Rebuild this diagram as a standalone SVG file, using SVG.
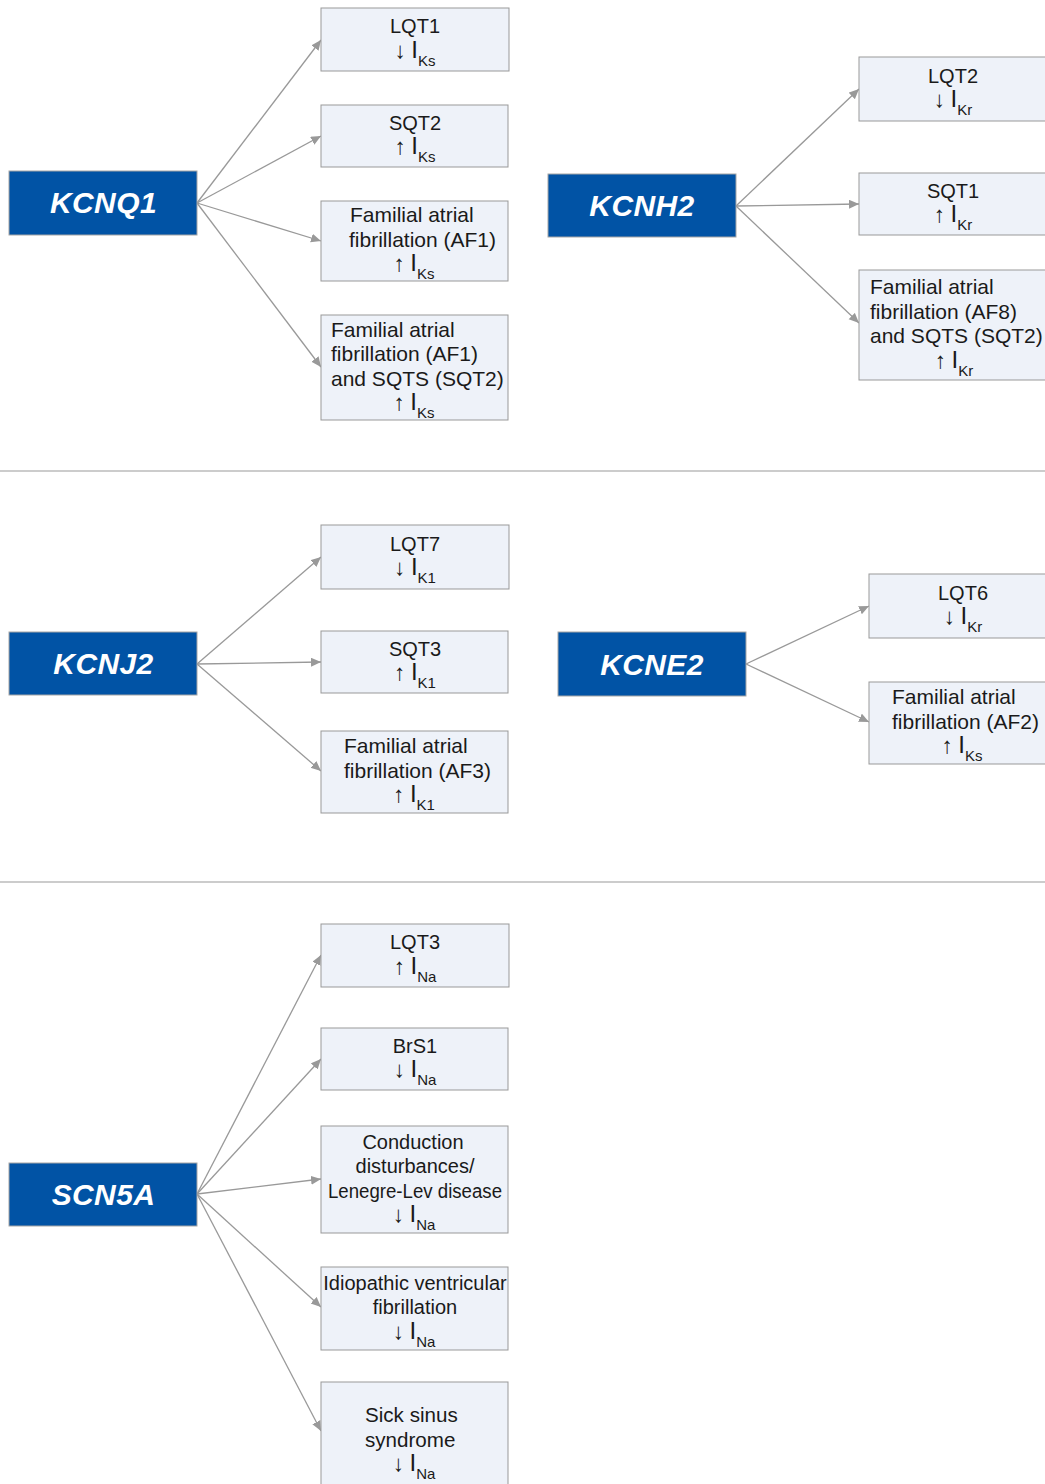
<svg xmlns="http://www.w3.org/2000/svg" width="1045" height="1484" viewBox="0 0 1045 1484">
<defs>
<marker id="ah" markerUnits="userSpaceOnUse" markerWidth="11" markerHeight="10" refX="10" refY="4.5" orient="auto"><path d="M0,0 L10,4.5 L0,9 z" fill="#999"/></marker>
<style>
.gene rect{fill:#0153a5;stroke:#a6a6a6;stroke-width:1}
.gene text{font-family:"Liberation Sans",Arial,sans-serif;font-size:30px;font-weight:bold;font-style:italic;fill:#fff;text-anchor:middle;letter-spacing:0.4px}
.box rect{fill:#eef2f9;stroke:#999;stroke-width:1}
.box text{font-family:"Liberation Sans",Arial,sans-serif;font-size:20px;fill:#1a1a1a}
.box text.l{font-size:21px}
.c{text-anchor:middle}
.ar{font-size:22.5px}
.big{font-size:24px}
.sub{font-size:15px}
.sep{stroke:#bbb;stroke-width:1.5}
#connectors line{stroke:#999;stroke-width:1.3;fill:none;marker-end:url(#ah)}
</style>
</defs>
<rect width="1045" height="1484" fill="#fff"/>
<line class="sep" x1="0" y1="471" x2="1045" y2="471"/>
<line class="sep" x1="0" y1="882" x2="1045" y2="882"/>

<g id="connectors">
<line x1="197" y1="203" x2="321" y2="40"/>
<line x1="197" y1="203" x2="321" y2="136"/>
<line x1="197" y1="203" x2="321" y2="241"/>
<line x1="197" y1="203" x2="321" y2="367"/>
<line x1="736" y1="206" x2="859" y2="89"/>
<line x1="736" y1="206" x2="859" y2="204"/>
<line x1="736" y1="206" x2="859" y2="323"/>
<line x1="197" y1="664" x2="321" y2="557"/>
<line x1="197" y1="664" x2="321" y2="662"/>
<line x1="197" y1="664" x2="321" y2="771"/>
<line x1="746" y1="664" x2="869" y2="606"/>
<line x1="746" y1="664" x2="869" y2="722"/>
<line x1="197" y1="1194" x2="321" y2="955"/>
<line x1="197" y1="1194" x2="321" y2="1059"/>
<line x1="197" y1="1194" x2="321" y2="1179"/>
<line x1="197" y1="1194" x2="321" y2="1307"/>
<line x1="197" y1="1194" x2="321" y2="1431"/>
</g>

<g id="KCNQ1" class="gene"><rect x="9" y="171" width="188" height="64"/><text x="103.5" y="213">KCNQ1</text></g>
<g id="KCNH2" class="gene"><rect x="548" y="174" width="188" height="63"/><text x="642" y="216">KCNH2</text></g>
<g id="KCNJ2" class="gene"><rect x="9" y="632" width="188" height="63"/><text x="103.5" y="674">KCNJ2</text></g>
<g id="KCNE2" class="gene"><rect x="558" y="632" width="188" height="64"/><text x="652" y="675">KCNE2</text></g>
<g id="SCN5A" class="gene"><rect x="9" y="1163" width="188" height="63"/><text x="103.5" y="1205">SCN5A</text></g>

<g id="LQT1" class="box"><rect x="321" y="8" width="188" height="63"/>
<text class="c" x="415" y="33">LQT1</text>
<text class="c" x="415" y="57.5"><tspan class="ar">↓</tspan> <tspan class="big">I</tspan><tspan class="sub" dy="8">Ks</tspan></text></g>
<g id="SQT2" class="box"><rect x="321" y="105" width="187" height="62"/>
<text class="c" x="415" y="129.5">SQT2</text>
<text class="c" x="415" y="154"><tspan class="ar">↑</tspan> <tspan class="big">I</tspan><tspan class="sub" dy="8">Ks</tspan></text></g>
<g id="AF1" class="box"><rect x="321" y="201" width="187" height="80"/>
<text class="l" x="350" y="222">Familial atrial</text>
<text class="l" x="349" y="246.5">fibrillation (AF1)</text>
<text class="c" x="414" y="271"><tspan class="ar">↑</tspan> <tspan class="big">I</tspan><tspan class="sub" dy="8">Ks</tspan></text></g>
<g id="AF1_SQT2" class="box"><rect x="321" y="315" width="187" height="105"/>
<text class="l" x="331" y="336.5">Familial atrial</text>
<text class="l" x="331" y="361">fibrillation (AF1)</text>
<text class="l" x="331" y="385.5">and SQTS (SQT2)</text>
<text class="c" x="414" y="410"><tspan class="ar">↑</tspan> <tspan class="big">I</tspan><tspan class="sub" dy="8">Ks</tspan></text></g>

<g id="LQT2" class="box"><rect x="859" y="57" width="188" height="64"/>
<text class="c" x="953" y="82.5">LQT2</text>
<text class="c" x="953" y="107"><tspan class="ar">↓</tspan> <tspan class="big">I</tspan><tspan class="sub" dy="8">Kr</tspan></text></g>
<g id="SQT1" class="box"><rect x="859" y="173" width="188" height="62"/>
<text class="c" x="953" y="197.5">SQT1</text>
<text class="c" x="953" y="222"><tspan class="ar">↑</tspan> <tspan class="big">I</tspan><tspan class="sub" dy="8">Kr</tspan></text></g>
<g id="AF8" class="box"><rect x="859" y="270" width="188" height="110"/>
<text class="l" x="870" y="294">Familial atrial</text>
<text class="l" x="870" y="318.5">fibrillation (AF8)</text>
<text class="l" x="870" y="343">and SQTS (SQT2)</text>
<text class="c" x="954" y="367.5"><tspan class="ar">↑</tspan> <tspan class="big">I</tspan><tspan class="sub" dy="8">Kr</tspan></text></g>

<g id="LQT7" class="box"><rect x="321" y="525" width="188" height="64"/>
<text class="c" x="415" y="550.5">LQT7</text>
<text class="c" x="415" y="575"><tspan class="ar">↓</tspan> <tspan class="big">I</tspan><tspan class="sub" dy="8">K1</tspan></text></g>
<g id="SQT3" class="box"><rect x="321" y="631" width="187" height="62"/>
<text class="c" x="415" y="655.5">SQT3</text>
<text class="c" x="415" y="680"><tspan class="ar">↑</tspan> <tspan class="big">I</tspan><tspan class="sub" dy="8">K1</tspan></text></g>
<g id="AF3" class="box"><rect x="321" y="731" width="187" height="82"/>
<text class="l" x="344" y="753">Familial atrial</text>
<text class="l" x="344" y="777.5">fibrillation (AF3)</text>
<text class="c" x="414" y="802"><tspan class="ar">↑</tspan> <tspan class="big">I</tspan><tspan class="sub" dy="8">K1</tspan></text></g>

<g id="LQT6" class="box"><rect x="869" y="574" width="188" height="64"/>
<text class="c" x="963" y="599.5">LQT6</text>
<text class="c" x="963" y="624"><tspan class="ar">↓</tspan> <tspan class="big">I</tspan><tspan class="sub" dy="8">Kr</tspan></text></g>
<g id="AF2" class="box"><rect x="869" y="682" width="188" height="82"/>
<text class="l" x="892" y="704">Familial atrial</text>
<text class="l" x="892" y="728.5">fibrillation (AF2)</text>
<text class="c" x="962" y="753"><tspan class="ar">↑</tspan> <tspan class="big">I</tspan><tspan class="sub" dy="8">Ks</tspan></text></g>

<g id="LQT3" class="box"><rect x="321" y="924" width="188" height="63"/>
<text class="c" x="415" y="949">LQT3</text>
<text class="c" x="415" y="973.5"><tspan class="ar">↑</tspan> <tspan class="big">I</tspan><tspan class="sub" dy="8">Na</tspan></text></g>
<g id="BrS1" class="box"><rect x="321" y="1028" width="187" height="62"/>
<text class="c" x="415" y="1052.5">BrS1</text>
<text class="c" x="415" y="1077"><tspan class="ar">↓</tspan> <tspan class="big">I</tspan><tspan class="sub" dy="8">Na</tspan></text></g>
<g id="Conduction" class="box"><rect x="321" y="1126" width="187" height="107"/>
<text class="c" x="413" y="1148.5">Conduction</text>
<text class="c" x="415" y="1173">disturbances/</text>
<text class="c" x="415" y="1197.5" textLength="174" lengthAdjust="spacingAndGlyphs">Lenegre-Lev disease</text>
<text class="c" x="414" y="1222"><tspan class="ar">↓</tspan> <tspan class="big">I</tspan><tspan class="sub" dy="8">Na</tspan></text></g>
<g id="IVF" class="box"><rect x="321" y="1267" width="187" height="83"/>
<text class="c" x="415" y="1289.5">Idiopathic ventricular</text>
<text class="c" x="415" y="1314">fibrillation</text>
<text class="c" x="414" y="1338.5"><tspan class="ar">↓</tspan> <tspan class="big">I</tspan><tspan class="sub" dy="8">Na</tspan></text></g>
<g id="SSS" class="box"><rect x="321" y="1382" width="187" height="120"/>
<text x="365" y="1422" style="font-size:20.6px">Sick sinus</text>
<text x="365" y="1446.5" style="font-size:20.6px">syndrome</text>
<text class="c" x="414" y="1471"><tspan class="ar">↓</tspan> <tspan class="big">I</tspan><tspan class="sub" dy="8">Na</tspan></text></g>
</svg>
